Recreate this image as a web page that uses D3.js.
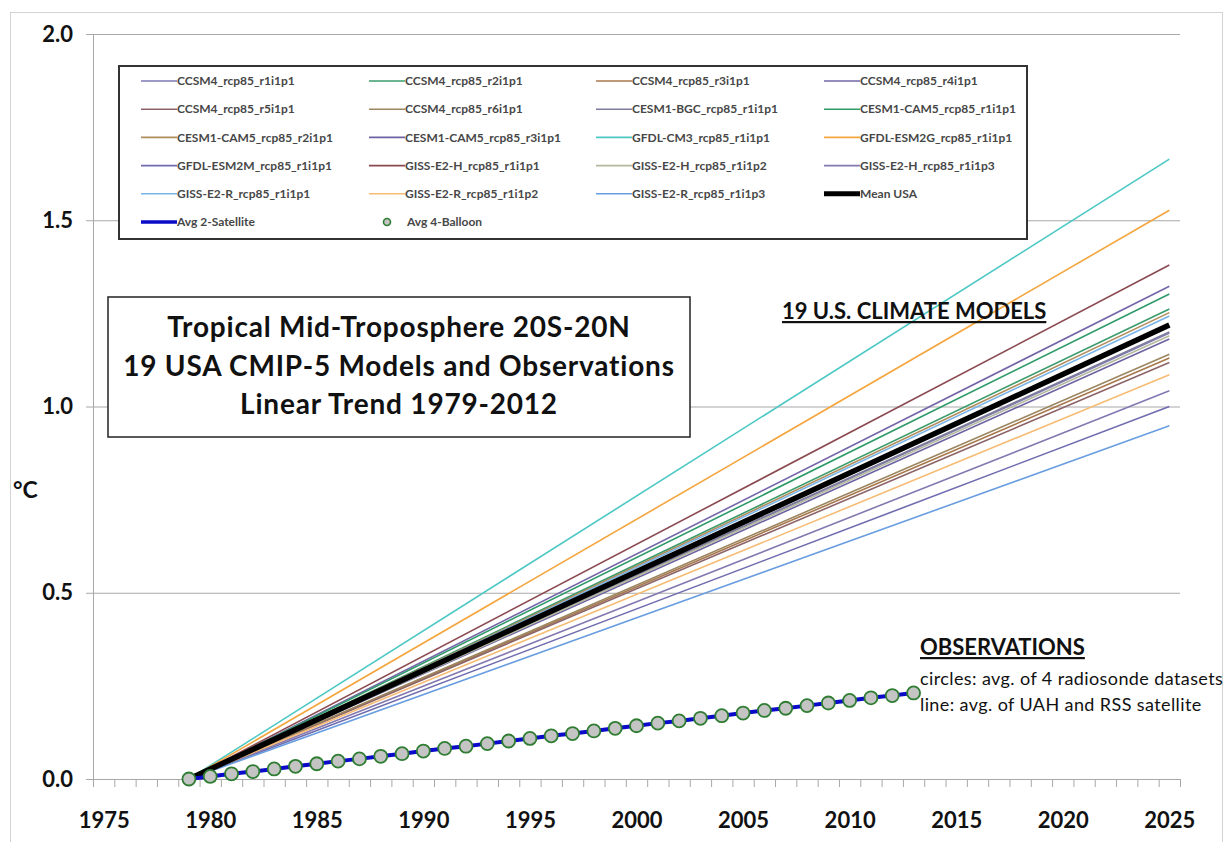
<!DOCTYPE html>
<html lang="en">
<head>
<meta charset="utf-8">
<title>Tropical Mid-Troposphere 20S-20N</title>
<script src="https://cdn.jsdelivr.net/npm/d3@7"></script>
<style>
  body { margin: 0; background: #fff; }
  svg { display: block; font-family: Lato, "Open Sans", sans-serif; }
</style>
</head>
<body>
<svg id="chart" width="1228" height="842"></svg>
<script>

// model names, legend order (row by row, 4 columns)
var modelNames = [
  "CCSM4_rcp85_r1i1p1", "CCSM4_rcp85_r2i1p1", "CCSM4_rcp85_r3i1p1", "CCSM4_rcp85_r4i1p1",
  "CCSM4_rcp85_r5i1p1", "CCSM4_rcp85_r6i1p1", "CESM1-BGC_rcp85_r1i1p1", "CESM1-CAM5_rcp85_r1i1p1",
  "CESM1-CAM5_rcp85_r2i1p1", "CESM1-CAM5_rcp85_r3i1p1", "GFDL-CM3_rcp85_r1i1p1", "GFDL-ESM2G_rcp85_r1i1p1",
  "GFDL-ESM2M_rcp85_r1i1p1", "GISS-E2-H_rcp85_r1i1p1", "GISS-E2-H_rcp85_r1i1p2", "GISS-E2-H_rcp85_r1i1p3",
  "GISS-E2-R_rcp85_r1i1p1", "GISS-E2-R_rcp85_r1i1p2", "GISS-E2-R_rcp85_r1i1p3"
];
var modelColors = [
  "#7c78b4", "#3a9c6c", "#a8784c", "#7466a8",
  "#8c6468", "#9c8660", "#7e7c9c", "#2f9a6a",
  "#b08c5c", "#6c62a2", "#4cc8c4", "#f4a53e",
  "#6e6cae", "#8a4a50", "#b4b89c", "#8478b0",
  "#78b4ea", "#f6bc74", "#6a9ee0"
];
// trend value (deg C) reached in 2025, each line starts at 0 in 1979
var modelEnd2025 = [
  1.197, 1.262, 1.130, 1.323,
  1.118, 1.140, 1.200, 1.302,
  1.252, 1.181, 1.664, 1.527,
  1.000, 1.380, 1.190, 1.042,
  1.243, 1.085, 0.948
];
var trendStart = 1979, trendEnd = 2025;
var meanEnd2025 = 1.219;

// observations, one value per year 1979-2013
var obsYears = d3.range(1979, 2014);
var obsValues = [
  0.000, 0.007, 0.014, 0.020, 0.027, 0.034, 0.041, 0.048, 0.054, 0.061,
  0.068, 0.075, 0.082, 0.088, 0.095, 0.102, 0.109, 0.116, 0.122, 0.129,
  0.136, 0.143, 0.150, 0.156, 0.163, 0.170, 0.177, 0.184, 0.190, 0.197,
  0.204, 0.211, 0.218, 0.224, 0.231
];

var yTicks = [0, 0.5, 1.0, 1.5, 2.0];
var xLabelYears = d3.range(1975, 2026, 5);
var xMinorTicks = d3.range(1974.5, 2026, 1);

var titleLines = ["Tropical Mid-Troposphere 20S-20N", "19 USA CMIP-5 Models and Observations", "Linear Trend 1979-2012"];

/////////////////////
// scales
var svg = d3.select("#chart");
var x = d3.scaleLinear().domain([1974.5, 2025.5]).range([93, 1180]);
var y = d3.scaleLinear().domain([0, 2]).range([779, 34]);
var axisColor = "#a8a8a8";

// outer chart frame
svg.append("rect")
  .attr("x", 10.5).attr("y", 12.5).attr("width", 1212).attr("height", 850)
  .attr("fill", "none").attr("stroke", "#d4d4d4");

// y axis with gridlines
var yAxis = svg.append("g")
  .attr("transform", "translate(" + x.range()[0] + ",0)")
  .call(d3.axisLeft(y).tickValues(yTicks).tickFormat(d3.format(".1f"))
    .tickSize(-(x.range()[1] - x.range()[0])).tickPadding(20));
yAxis.select(".domain").attr("stroke", axisColor).attr("d", "M0.5," + y(2) + "V" + y(0));
yAxis.selectAll(".tick line").attr("stroke", axisColor).attr("x1", -7);
yAxis.selectAll(".tick text")
  .attr("font-size", 22).attr("font-weight", "bold").attr("fill", "#111")
  .attr("font-family", "Lato, sans-serif");

svg.append("text")
  .attr("x", 13).attr("y", 498)
  .attr("font-size", 23).attr("font-weight", "bold").attr("fill", "#111")
  .text("°C");

// x axis: minor ticks between years, labels every 5 years
var xAxis = svg.append("g")
  .attr("transform", "translate(0," + y(0) + ")")
  .call(d3.axisBottom(x).tickValues(xMinorTicks).tickFormat("").tickSize(8).tickSizeOuter(0));
xAxis.select(".domain").attr("stroke", axisColor);
xAxis.selectAll(".tick line").attr("stroke", axisColor);

var xLabels = svg.append("g")
  .attr("transform", "translate(0," + y(0) + ")")
  .call(d3.axisBottom(x).tickValues(xLabelYears).tickFormat(d3.format("d")).tickSize(0).tickPadding(33));
xLabels.select(".domain").remove();
xLabels.selectAll(".tick text")
  .attr("font-size", 22).attr("font-weight", "bold").attr("fill", "#111")
  .attr("font-family", "Lato, sans-serif");

/////////////////////
// model trend lines
var line = d3.line().x(function(d) { return x(d[0]); }).y(function(d) { return y(d[1]); });

svg.append("g").selectAll("path")
  .data(modelEnd2025)
  .join("path")
  .attr("d", function(v) { return line([[trendStart, 0], [trendEnd, v]]); })
  .attr("fill", "none")
  .attr("stroke", function(v, i) { return modelColors[i]; })
  .attr("stroke-width", 1.6);

svg.append("path")
  .attr("d", line([[trendStart, 0], [trendEnd, meanEnd2025]]))
  .attr("fill", "none").attr("stroke", "#000").attr("stroke-width", 5.5);

// observations
var obs = obsYears.map(function(yr, i) { return [yr, obsValues[i]]; });
svg.append("path")
  .attr("d", line(obs))
  .attr("fill", "none").attr("stroke", "#0a0ac8").attr("stroke-width", 4);

svg.append("g").selectAll("circle")
  .data(obs)
  .join("circle")
  .attr("cx", function(d) { return x(d[0]); })
  .attr("cy", function(d) { return y(d[1]); })
  .attr("r", 6.5)
  .attr("fill", "#c4c4c4")
  .attr("stroke", "#2e7d32")
  .attr("stroke-width", 1.8);

/////////////////////
// legend
var legend = svg.append("g");
legend.append("rect")
  .attr("x", 119).attr("y", 66).attr("width", 908).attr("height", 173)
  .attr("fill", "#fff").attr("stroke", "#333").attr("stroke-width", 2);

var legendItems = modelNames.map(function(n, i) { return {name: n, color: modelColors[i], type: "model"}; });
legendItems.push({name: "Mean USA", color: "#000", type: "mean"});
legendItems.push({name: "Avg 2-Satellite", color: "#0a0ac8", type: "sat"});
legendItems.push({name: "Avg 4-Balloon", color: "#2e7d32", type: "balloon"});

var colX = [177, 405, 632, 860], rowY0 = 81, rowStep = 28.2;

var item = legend.selectAll("g.item")
  .data(legendItems)
  .join("g")
  .attr("class", "item")
  .attr("transform", function(d, i) {
    return "translate(" + colX[i % 4] + "," + (rowY0 + Math.floor(i / 4) * rowStep) + ")";
  });

item.filter(function(d) { return d.type !== "balloon"; })
  .append("line")
  .attr("x1", -36).attr("x2", 0).attr("y1", 0).attr("y2", 0)
  .attr("stroke", function(d) { return d.color; })
  .attr("stroke-width", function(d) { return d.type === "mean" ? 5 : d.type === "sat" ? 3.5 : 1.6; });

item.filter(function(d) { return d.type === "balloon"; })
  .append("circle")
  .attr("cx", -18).attr("cy", 0).attr("r", 3.5)
  .attr("fill", "#c4c4c4").attr("stroke", "#2e7d32").attr("stroke-width", 1.6);

item.append("text")
  .attr("x", function(d) { return d.type === "balloon" ? 2 : 0; })
  .attr("dy", "0.35em")
  .attr("font-size", 12).attr("font-weight", "bold").attr("fill", "#474747")
  .text(function(d) { return d.name; });

/////////////////////
// title box
var tb = svg.append("g");
tb.append("rect")
  .attr("x", 108).attr("y", 297).attr("width", 582).attr("height", 140)
  .attr("fill", "#fff").attr("stroke", "#222").attr("stroke-width", 1.5);
tb.selectAll("text")
  .data(titleLines)
  .join("text")
  .attr("x", 399)
  .attr("y", function(d, i) { return 337 + i * 38.5; })
  .attr("text-anchor", "middle")
  .attr("font-size", 28).attr("font-weight", "bold").attr("fill", "#111")
  .attr("letter-spacing", 0.8)
  .text(function(d) { return d; });

// annotations
svg.append("text")
  .attr("x", 782).attr("y", 319)
  .attr("font-size", 22).attr("font-weight", "bold").attr("fill", "#111")
  .attr("text-decoration", "underline")
  .text("19 U.S. CLIMATE MODELS");

svg.append("text")
  .attr("x", 920).attr("y", 655)
  .attr("font-size", 22).attr("font-weight", "bold").attr("fill", "#111")
  .attr("text-decoration", "underline")
  .text("OBSERVATIONS");

svg.append("text")
  .attr("x", 920).attr("y", 685)
  .attr("font-size", 18).attr("fill", "#111").attr("letter-spacing", 0.4)
  .text("circles: avg. of 4 radiosonde datasets");

svg.append("text")
  .attr("x", 920).attr("y", 711)
  .attr("font-size", 18).attr("fill", "#111").attr("letter-spacing", 0.4)
  .text("line: avg. of UAH and RSS satellite");

</script>
</body>
</html>
